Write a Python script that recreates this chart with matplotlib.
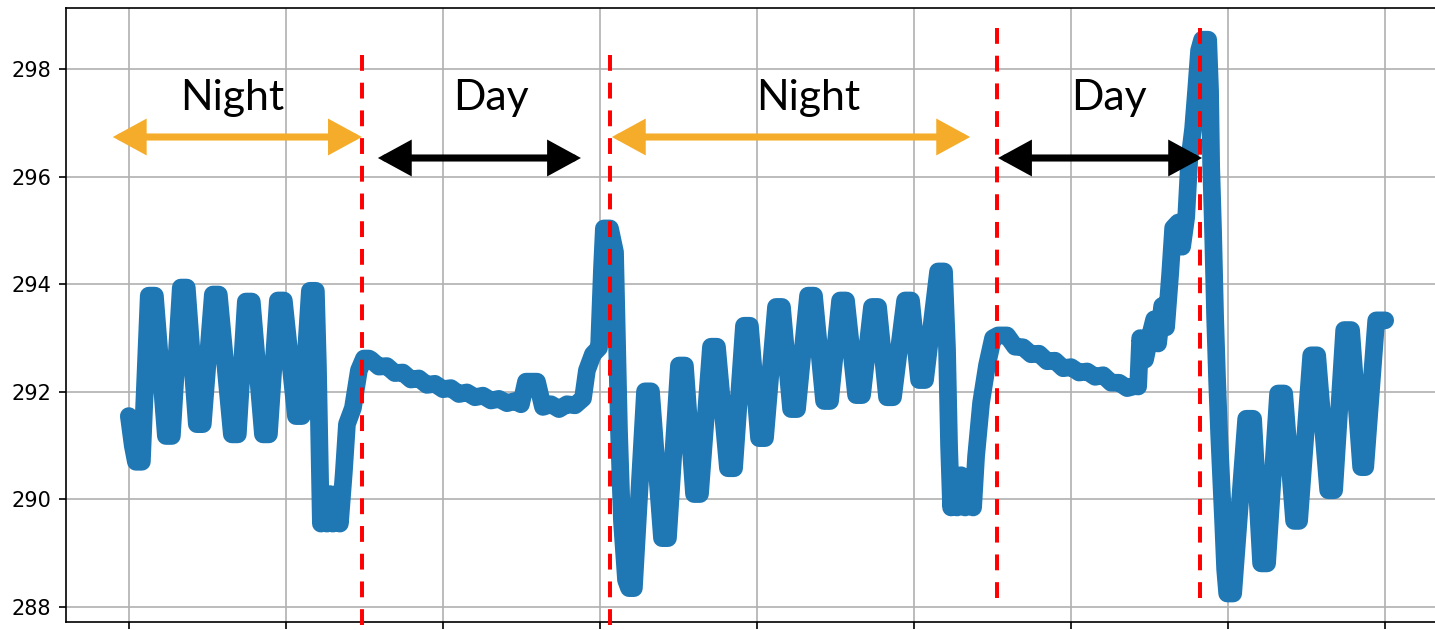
import matplotlib
matplotlib.use("Agg")
import matplotlib.pyplot as plt
from matplotlib.patches import FancyArrowPatch
from matplotlib.transforms import blended_transform_factory

# sample index / temperature (K), split by phase
# night 1
t_night1 = [0, 25, 45, 83, 127, 166, 236, 274, 331, 369, 433, 471, 535, 573,
            656, 694, 745, 783, 854, 892, 949, 987, 1064, 1102, 1153, 1191,
            1204, 1217, 1223, 1245, 1261, 1280, 1299, 1320, 1344, 1369, 1389,
            1427, 1465, 1497, 1529]
y_night1 = [291.55, 291.0, 290.7, 290.7, 293.79, 293.79, 291.18, 291.18,
            293.94, 293.94, 291.4, 291.4, 293.81, 293.81, 291.21, 291.21,
            293.68, 293.68, 291.21, 291.21, 293.7, 293.7, 291.55, 291.55,
            293.88, 293.88, 292.5, 290.5, 289.55, 290.05, 289.55, 290.1,
            289.55, 290.1, 289.55, 290.5, 291.4, 291.7, 292.4, 292.62, 292.62]
# day 1
t_day1 = [1541, 1592, 1643, 1694, 1745, 1796, 1847, 1898, 1949, 2000, 2051,
          2102, 2153, 2204, 2255, 2306, 2357, 2408, 2459, 2497, 2529, 2599,
          2637, 2688, 2739, 2790, 2841, 2892, 2917, 2955, 2994, 3013, 3025,
          3064, 3096, 3108, 3121, 3140, 3166, 3185, 3216]
y_day1 = [292.6, 292.47, 292.48, 292.35, 292.36, 292.23, 292.25, 292.13,
          292.15, 292.05, 292.07, 291.96, 291.99, 291.9, 291.93, 291.84,
          291.87, 291.79, 291.83, 291.77, 292.19, 292.19, 291.72, 291.77,
          291.68, 291.77, 291.75, 291.88, 292.4, 292.7, 292.82, 294.3,
          295.04, 295.04, 294.6, 293.0, 291.3, 289.6, 288.5, 288.35, 288.35]
# night 2
t_night2 = [3287, 3325, 3395, 3433, 3503, 3541, 3599, 3637, 3707, 3745, 3815,
            3854, 3917, 3955, 4013, 4051, 4121, 4159, 4217, 4255, 4325, 4363,
            4427, 4465, 4529, 4567, 4631, 4669, 4732, 4771, 4828, 4866, 4943,
            4981, 5032, 5070, 5153, 5191, 5210, 5223, 5236, 5255, 5274, 5299,
            5325, 5350, 5376, 5395, 5427, 5465, 5503, 5535, 5567]
y_night2 = [292.01, 292.01, 289.28, 289.28, 292.49, 292.49, 290.1, 290.1,
            292.84, 292.84, 290.58, 290.58, 293.23, 293.23, 291.14, 291.14,
            293.58, 293.58, 291.68, 291.68, 293.79, 293.79, 291.83, 291.83,
            293.7, 293.7, 291.94, 291.94, 293.58, 293.58, 291.9, 291.9,
            293.7, 293.7, 292.22, 292.22, 294.24, 294.24, 292.8, 291.0,
            289.85, 290.4, 289.85, 290.45, 289.85, 290.4, 289.85, 290.8,
            291.8, 292.5, 293.0, 293.05, 293.05]
# day 2
t_day2 = [5592, 5643, 5694, 5745, 5796, 5847, 5898, 5949, 6000, 6051, 6102,
          6153, 6204, 6255, 6306, 6357, 6408, 6427, 6440, 6471, 6503, 6529,
          6554, 6580, 6605, 6631, 6650, 6682, 6707, 6733, 6752, 6777, 6796,
          6815, 6834, 6873, 6885, 6892, 6904, 6917, 6930, 6943, 6968, 6981,
          6994, 7032]
y_day2 = [293.05, 292.84, 292.83, 292.7, 292.71, 292.57, 292.58, 292.44,
          292.46, 292.36, 292.38, 292.28, 292.31, 292.17, 292.17, 292.07,
          292.11, 292.1, 293.0, 292.6, 293.05, 293.35, 292.9, 293.6, 293.2,
          294.2, 295.05, 295.15, 294.7, 295.25, 296.3, 296.9, 297.6, 298.35,
          298.55, 298.55, 297.6, 296.2, 295.0, 293.4, 292.2, 291.2, 289.6,
          288.7, 288.25, 288.25]
# night 3
t_night3 = [7115, 7159, 7210, 7248, 7318, 7357, 7420, 7452, 7529, 7567, 7637,
            7675, 7739, 7783, 7847, 7873, 7943, 8000]
y_night3 = [291.5, 291.5, 288.81, 288.81, 291.97, 291.97, 289.6, 289.6,
            292.68, 292.68, 290.17, 290.17, 293.15, 293.15, 290.6, 290.6,
            293.33, 293.33]

time_idx = t_night1 + t_day1 + t_night2 + t_day2 + t_night3
temperature = y_night1 + y_day1 + y_night2 + y_day2 + y_night3

# night/day annotation spans (sample index)
phase_labels = ["Night", "Day", "Night", "Day"]
phase_start = [-102, 1586, 3076, 5535]
phase_end = [1484, 2879, 5357, 6834]
phase_label_x = [656, 2306, 4325, 6242]
boundaries = [1484, 3064, 5529, 6822]

W, H, DPI = 1435, 630, 150
NIGHT_COLOR = "#F5AC2A"
DAY_COLOR = "black"


def fy(py):
    """pixel row -> figure fraction"""
    return 1 - py / H


fig = plt.figure(figsize=(W / DPI, H / DPI), dpi=DPI)
# the original screenshot is cropped: right spine and x tick labels fall outside
ax = fig.add_axes([66 / W, 8 / H, 1382 / W, 614 / H])

ax.plot(time_idx, temperature, color="#1f77b4", lw=8.5,
        solid_capstyle="round", solid_joinstyle="round")

ax.set_xlim(-400, 8400)
ax.set_ylim(287.72, 299.14)
ax.set_xticks(range(0, 8001, 1000))
ax.set_yticks(range(288, 299, 2))
ax.tick_params(labelbottom=False, labelsize=10)
ax.grid(True, color="#b0b0b0", lw=0.8)
ax.spines["right"].set_visible(False)

blend = blended_transform_factory(ax.transData, fig.transFigure)

# red dashed phase boundaries
for i, xb in enumerate(boundaries):
    y0, y1 = (55, 630) if i < 2 else (28, 602)
    ax.plot([xb, xb], [fy(y0), fy(y1)], transform=blend, color="red", lw=1.9,
            dashes=(4.0, 3.0), clip_on=False, zorder=5)

# arrows + labels
for i, lab in enumerate(phase_labels):
    col = NIGHT_COLOR if lab == "Night" else DAY_COLOR
    ya = fy(137) if lab == "Night" else fy(158)
    arr = FancyArrowPatch((phase_start[i], ya), (phase_end[i], ya),
                          transform=blend,
                          arrowstyle="<|-|>,head_length=11,head_width=6",
                          mutation_scale=1, lw=3.4, color=col,
                          joinstyle="miter",
                          shrinkA=0, shrinkB=0, clip_on=False, zorder=6)
    ax.add_patch(arr)
    ax.text(phase_label_x[i], fy(110), lab, transform=blend, ha="center",
            va="baseline", fontsize=20.5, family=["Lato", "DejaVu Sans"],
            color="black", zorder=6)

fig.savefig("out.png", dpi=DPI)
